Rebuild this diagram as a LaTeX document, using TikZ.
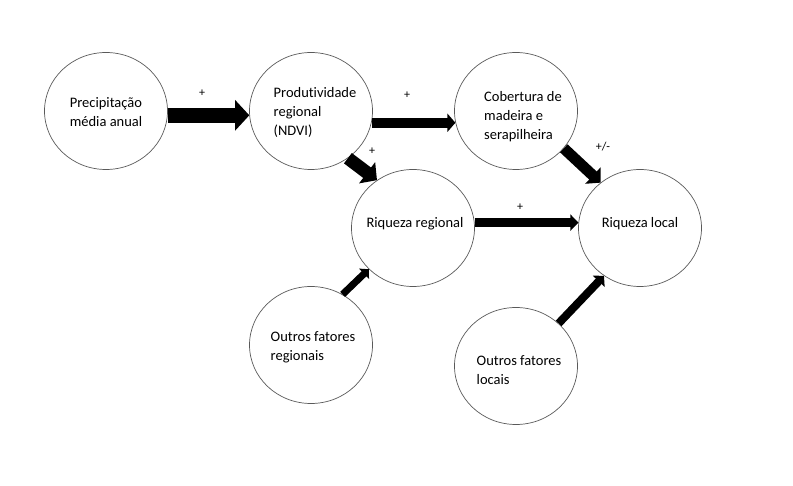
\documentclass[tikz,border=0pt]{standalone}
\usepackage{fontspec}
\setmainfont{Carlito}[Ligatures=NoCommon]
\usepackage{tikz}
\usetikzlibrary{arrows.meta,shapes.geometric}

\begin{document}
\begin{tikzpicture}[x=1pt,y=1pt,
    bubble/.style={ellipse,draw=black!65,line width=0.7pt,minimum width=123,minimum height=117},
    txt/.style={align=left,inner sep=0pt,font=\fontsize{14.5}{19}\selectfont},
    flow/.style={line width=#1,-{Triangle[length=0pt 0.95,width=0pt 2]}},
    sign/.style={font=\fontsize{12}{14}\selectfont}]
      \useasboundingbox (0,0) rectangle (793,485);
      % circles
      \node [bubble,label={[txt,yshift=-1]center:Precipitação\\média anual}] (prec) at (106,374) {};
      \node [bubble,label={[txt,xshift=4,yshift=-1.5]center:Produtividade\\regional\\(NDVI)}] (prod) at (311,374) {};
      \node [bubble,label={[txt,xshift=7,yshift=-6]center:Cobertura de\\madeira e\\serapilheira}] (cob) at (516,374) {};
      \node [bubble,label={[txt,xshift=2,yshift=4]center:Riqueza regional}] (rreg) at (413,257) {};
      \node [bubble,label={[txt,yshift=4]center:Riqueza local}] (rloc) at (640,257) {};
      \node [bubble,label={[txt,xshift=2,yshift=-2]center:Outros fatores\\regionais}] (oreg) at (311,140) {};
      \node [bubble,label={[txt,xshift=3,yshift=-4.5]center:Outros fatores\\locais}] (oloc) at (516,119) {};
      % arrows
      \draw [flow=15pt] (prec.-4) -- (prod.184);
      \draw [flow=10pt,-{Triangle[length=8pt,width=18pt]}] (prod.-11) -- (cob.191);
      \draw [flow=13pt] (prod.-52) -- (rreg.127);
      \draw [flow=11pt] (cob.-38) -- (rloc.131);
      \draw [flow=9pt,-{Triangle[length=8pt,width=16pt]}] (rreg.5) -- (rloc.175);
      \draw [flow=7pt] (oreg.58) -- (rreg.223);
      \draw [flow=8pt] (oloc.45) -- (rloc.233);
      % signs
      \node [sign] (s1) at (202,392) {+};
      \node [sign] (s2) at (407,390) {+};
      \node [sign] (s3) at (372,334) {+};
      \node [sign] (s4) at (603,338) {+/-};
      \node [sign] (s5) at (520,278) {+};
    \end{tikzpicture}
\end{document}
